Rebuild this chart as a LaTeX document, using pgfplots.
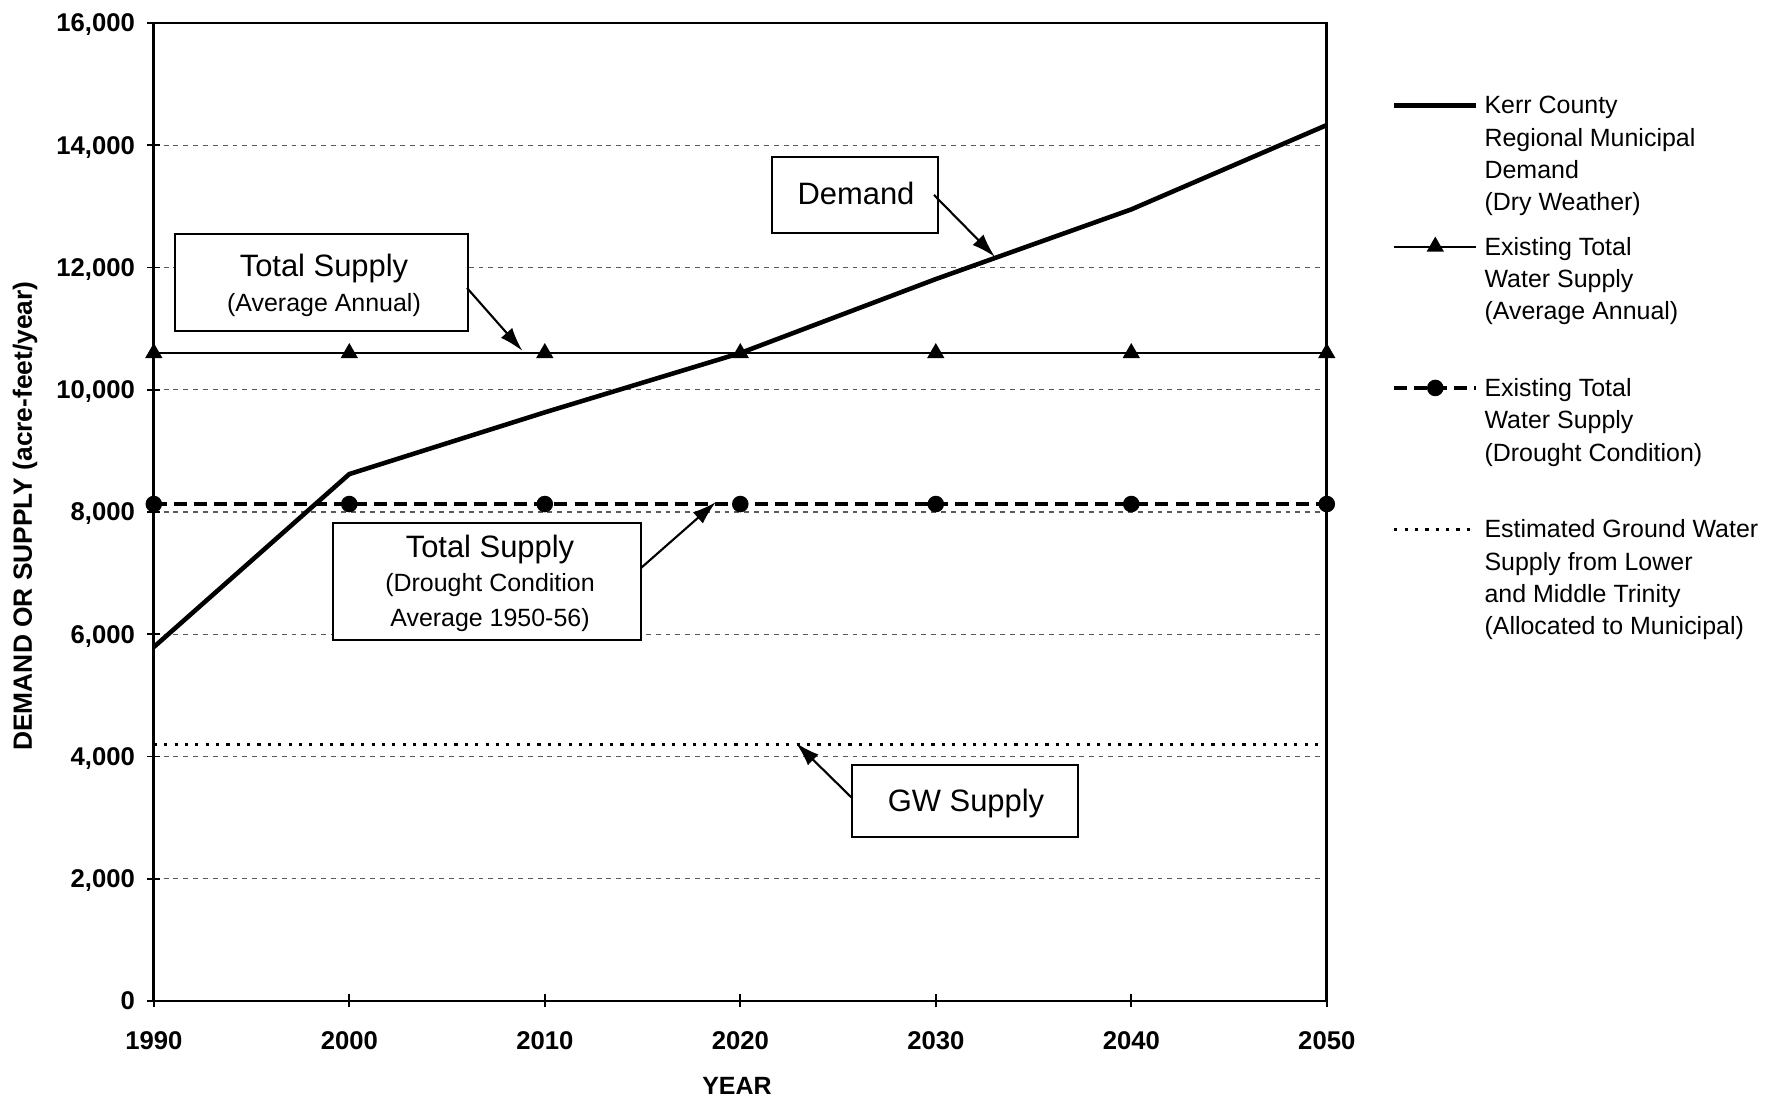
\documentclass[border=0pt]{standalone}
\usepackage{fontspec}
\setmainfont{Liberation Sans}
\usepackage{pgfplots}
\usepackage{pgfplotstable}
\pgfplotsset{compat=1.18}
\usetikzlibrary{arrows.meta}

% Projected municipal demand and supplies (acre-feet/year)
\pgfplotstableread{
year demand avgsupply droughtsupply gwsupply
1990 5790  10600 8130 4190
2000 8620  10600 8130 4190
2010 9630  10600 8130 4190
2020 10600 10600 8130 4190
2030 11810 10600 8130 4190
2040 12950 10600 8130 4190
2050 14330 10600 8130 4190
}\projections

\begin{document}
\begin{tikzpicture}
\useasboundingbox (0,0) rectangle (179.2mm,110.1mm);
\begin{axis}[
  at={(15.38mm,10mm)}, anchor=south west,
  scale only axis, width=117.3mm, height=97.8mm,
  xmin=1990, xmax=2050, ymin=0, ymax=16000,
  xtick={1990,2000,...,2050}, ytick={0,2000,...,16000},
  scaled y ticks=false,
  tick pos=left, tick align=center, major tick length=1.3mm,
  minor tick num=0,
  tick style={black, line width=0.5pt},
  axis line style={black, line width=0.75pt},
  ymajorgrids,
  major grid style={black!65, line width=0.35pt, dash pattern=on 1.4pt off 1.4pt},
  /pgf/number format/assume math mode=true,
  ticklabel style={font=\bfseries\fontsize{7.3}{8}\selectfont},
  xticklabel style={/pgf/number format/1000 sep={}, yshift=-1.2mm},
  yticklabel style={/pgf/number format/1000 sep={,}, text depth=0pt},
  xlabel={YEAR},
  ylabel={DEMAND OR SUPPLY (acre-feet/year)},
  xlabel style={at={(rel axis cs:0.4972,-0.0869)}, anchor=center,
                font=\bfseries\fontsize{7.1}{8}\selectfont},
  ylabel style={at={(rel axis cs:-0.1098,0.4959)}, anchor=center,
                font=\bfseries\fontsize{7.5}{9}\selectfont},
  clip=false,
  legend style={at={(1.0556,0.9302)}, anchor=north west,
                draw=none, fill=none, inner sep=0pt, outer sep=0pt,
                row sep=1.2mm, column sep=0.6mm,
                font=\fontsize{7.1}{9.2}\selectfont,
                cells={anchor=base west},
                nodes={inner sep=0pt, text depth={}}},
  legend image code/.code={%
    \draw[mark repeat=2,mark phase=2,#1]
      plot coordinates {(0mm,2.45pt) (4.1mm,2.45pt) (8.2mm,2.45pt)};},
]
\addplot[black, line width=1.3pt, mark=none]
  table[x=year, y=demand] {\projections};
\addlegendentry{\begin{tabular}[t]{@{}l@{}}Kerr County\\Regional Municipal\\Demand\\(Dry Weather)\end{tabular}}

\addplot[black, line width=0.55pt, mark=triangle*, mark size=2.3pt, mark options={solid}]
  table[x=year, y=avgsupply] {\projections};
\addlegendentry{\begin{tabular}[t]{@{}l@{}}Existing Total\\Water Supply\\(Average Annual)\\\mbox{}\end{tabular}}

\addplot[black, line width=0.9pt, dash pattern=on 3.7pt off 2pt, mark=*, mark size=1.9pt, mark options={solid}]
  table[x=year, y=droughtsupply] {\projections};
\addlegendentry{\begin{tabular}[t]{@{}l@{}}Existing Total\\Water Supply\\(Drought Condition)\\\mbox{}\end{tabular}}

\addplot[black, line width=0.85pt, dash pattern=on 0.9pt off 2.05pt, mark=none]
  table[x=year, y=gwsupply] {\projections};
\addlegendentry{\begin{tabular}[t]{@{}l@{}}Estimated Ground Water\\Supply from Lower\\and Middle Trinity\\(Allocated to Municipal)\end{tabular}}
\end{axis}

% Callout boxes with arrows
\tikzset{callout/.style={draw=black, line width=0.6pt, fill=white},
         pointer/.style={line width=0.6pt, -{Latex[length=2.4mm,width=1.5mm]}},
         big/.style={anchor=base, inner sep=0pt, font=\fontsize{8.8}{10}\selectfont},
         small/.style={anchor=base, inner sep=0pt, font=\fontsize{7.1}{9}\selectfont}}

\draw[callout] (17.5mm,77.0mm) rectangle (46.8mm,86.7mm);
\node[big] at (32.4mm,82.4mm) {Total Supply};
\node[small] at (32.4mm,78.9mm) {(Average Annual)};
\draw[pointer] (46.7mm,81.3mm) -- (52.25mm,75.0mm);

\draw[callout] (77.2mm,86.8mm) rectangle (93.8mm,94.4mm);
\node[big] at (85.6mm,89.6mm) {Demand};
\draw[pointer] (93.4mm,90.6mm) -- (99.5mm,84.4mm);

\draw[callout] (33.3mm,46.1mm) rectangle (64.1mm,57.8mm);
\node[big] at (49.0mm,54.3mm) {Total Supply};
\node[small] at (49.0mm,50.9mm) {(Drought Condition};
\node[small] at (49.0mm,47.4mm) {Average 1950-56)};
\draw[pointer] (64.1mm,53.3mm) -- (71.6mm,59.9mm);

\draw[callout] (85.2mm,26.4mm) rectangle (107.8mm,33.6mm);
\node[big] at (96.6mm,28.9mm) {GW Supply};
\draw[pointer] (85.2mm,30.3mm) -- (79.6mm,35.8mm);
\end{tikzpicture}
\end{document}
